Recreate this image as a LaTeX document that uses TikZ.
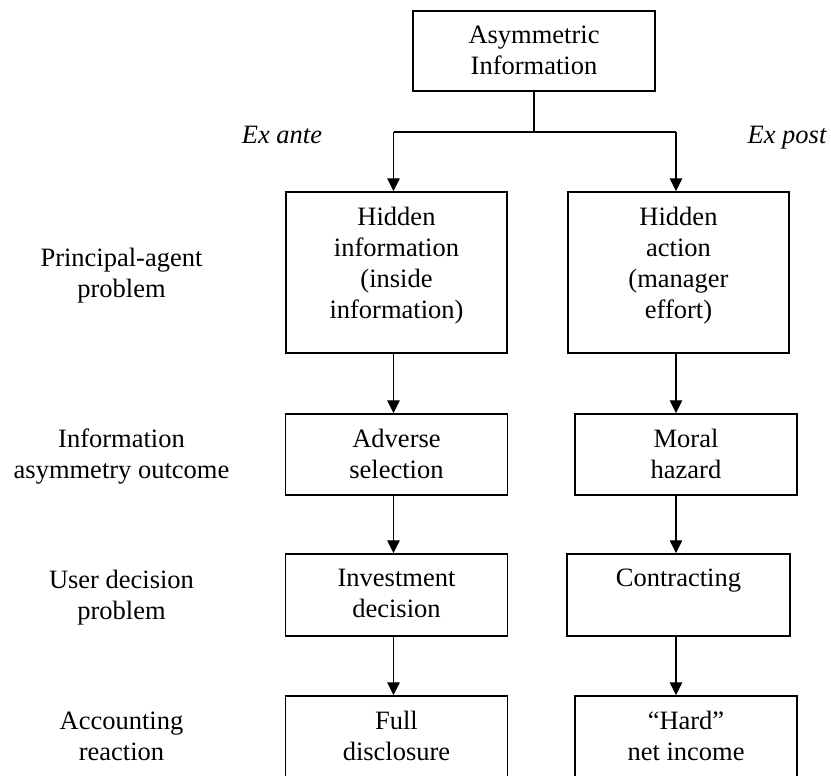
\documentclass[tikz,border=0pt]{standalone}
\usepackage{fontspec}
\setmainfont{Liberation Serif}
\usetikzlibrary{arrows.meta}
\tikzset{
  frame/.style={draw=black, line width=1.5pt, rectangle, inner sep=0pt, fill=white},
  txt/.style={inner sep=0pt, align=center, font=\fontsize{26.5}{31}\selectfont, anchor=north},
  lbl/.style={inner sep=0pt, align=center, font=\fontsize{26.5}{31}\selectfont, anchor=north},
  itl/.style={inner sep=0pt, font=\fontsize{26.5}{31}\selectfont\itshape, anchor=base},
  conn/.style={line width=1.3pt},
  arr/.style={line width=1.3pt, -{Triangle[width=12.5pt,length=13pt]}}
}
\begin{document}
\begin{tikzpicture}[x=1pt,y=-1pt]
\useasboundingbox (0,0) rectangle (831,776);
% boxes
\node[frame, minimum width=242pt, minimum height=80pt] (ai) at (534,51) {};
\node[frame, minimum width=221pt, minimum height=161pt] (hi) at (396.5,272.5) {};
\node[frame, minimum width=221pt, minimum height=161pt] (ha) at (678.5,272.5) {};
\node[frame, minimum width=222pt, minimum height=81pt] (as) at (396.5,454.5) {};
\node[frame, minimum width=222pt, minimum height=81pt] (mh) at (686,454.5) {};
\node[frame, minimum width=222pt, minimum height=82pt] (id) at (396.5,595) {};
\node[frame, minimum width=223pt, minimum height=82pt] (ct) at (678.5,595) {};
\node[frame, minimum width=222pt, minimum height=81pt] (fd) at (396.5,736.5) {};
\node[frame, minimum width=222pt, minimum height=81pt] (hn) at (686,736.5) {};
% box texts
\node[txt] (ait) at ([yshift=-16pt]ai.north) {Asymmetric\\Information};
\node[txt] (hit) at ([yshift=-16pt]hi.north) {Hidden\\information\\(inside\\information)};
\node[txt] (hat) at ([yshift=-16pt]ha.north) {Hidden\\action\\(manager\\effort)};
\node[txt] (ast) at ([yshift=-16pt]as.north) {Adverse\\selection};
\node[txt] (mht) at ([yshift=-16pt]mh.north) {Moral\\hazard};
\node[txt] (idt) at ([yshift=-16pt]id.north) {Investment\\decision};
\node[txt] (ctt) at ([yshift=-16pt]ct.north) {Contracting};
\node[txt] (fdt) at ([yshift=-16pt]fd.north) {Full\\disclosure};
\node[txt] (hnt) at ([yshift=-16pt]hn.north) {``Hard''\\net income};
% side labels
\node[lbl] (l1) at (121.5,248) {Principal-agent\\problem};
\node[lbl] (l2) at (121.5,429) {Information\\asymmetry outcome};
\node[lbl] (l3) at (121.5,570) {User decision\\problem};
\node[lbl] (l4) at (121.5,712) {Accounting\\reaction};
\node[itl] (exa) at (282,143) {Ex ante};
\node[itl] (exp) at (787,143) {Ex post};
% connectors
\coordinate (jl) at (393.5,132);
\coordinate (jr) at (676,132);
\draw[conn] (ai.south) -- (ai.south |- jl);
\draw[conn] (jl) -- (jr);
\draw[arr] (jl) -- (hi.north -| jl);
\draw[arr] (jr) -- (ha.north -| jr);
\draw[arr] (hi.south -| jl) -- (as.north -| jl);
\draw[arr] (as.south -| jl) -- (id.north -| jl);
\draw[arr] (id.south -| jl) -- (fd.north -| jl);
\draw[arr] (ha.south -| jr) -- (mh.north -| jr);
\draw[arr] (mh.south -| jr) -- (ct.north -| jr);
\draw[arr] (ct.south -| jr) -- (hn.north -| jr);
\end{tikzpicture}
\end{document}
